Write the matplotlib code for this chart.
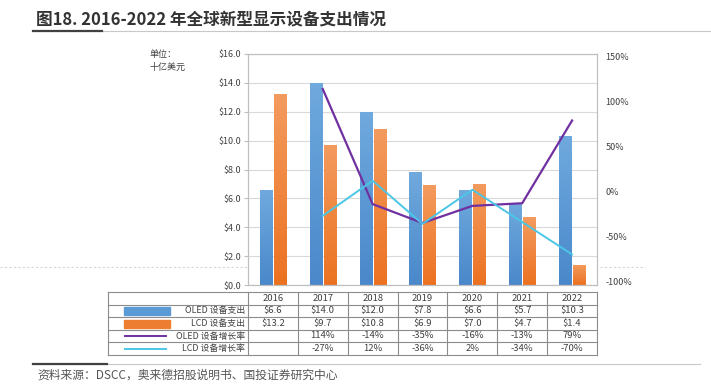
import matplotlib
matplotlib.use('Agg')
import matplotlib.pyplot as plt
from matplotlib.lines import Line2D
from matplotlib.patches import Rectangle
from matplotlib.colors import LinearSegmentedColormap
import numpy as np

plt.rcParams['font.family'] = ['Noto Sans CJK SC', 'DejaVu Sans']

years = ['2016', '2017', '2018', '2019', '2020', '2021', '2022']
oled_spend = [6.6, 14.0, 12.0, 7.8, 6.6, 5.7, 10.3]
lcd_spend = [13.2, 9.7, 10.8, 6.9, 7.0, 4.7, 1.4]
oled_growth = [None, 114, -14, -35, -16, -13, 79]
lcd_growth = [None, -27, 12, -36, 2, -34, -70]
left_ticks = [0, 2, 4, 6, 8, 10, 12, 14, 16]
right_ticks = [-100, -50, 0, 50, 100, 150]
row_names = ['OLED 设备支出', 'LCD 设备支出', 'OLED 设备增长率', 'LCD 设备增长率']

C_OLED = '#5B9BD5'
C_LCD = '#ED7D31'
C_OLED_G = '#7030A0'
C_LCD_G = '#4BC6E6'
TXT = '#404040'
cm_oled = LinearSegmentedColormap.from_list('o', ['#4A88CB', '#6FA9DD'])
cm_lcd = LinearSegmentedColormap.from_list('l', ['#EC7222', '#F39B5E'])

W, H = 711, 388
fig = plt.figure(figsize=(W / 100, H / 100), dpi=100)


def fx(px):
    return px / W


def fy(py):
    return 1 - py / H


def hline(x0, x1, y, **kw):
    fig.add_artist(Line2D([fx(x0), fx(x1)], [fy(y), fy(y)], transform=fig.transFigure, **kw))


def vline(x, y0, y1, **kw):
    fig.add_artist(Line2D([fx(x), fx(x)], [fy(y0), fy(y1)], transform=fig.transFigure, **kw))


ax_l, ax_r, ax_t, ax_b = 248, 597, 54, 285
ax = fig.add_axes([fx(ax_l), fy(ax_b), (ax_r - ax_l) / W, (ax_b - ax_t) / H])
x = np.arange(len(years))
grad = np.linspace(0, 1, 64).reshape(-1, 1)
for series, off, cmap in ((oled_spend, -0.14, cm_oled), (lcd_spend, 0.14, cm_lcd)):
    bars = ax.bar(x + off, series, 0.245, color='none', zorder=2)
    for b in bars:
        bx, bw, bh = b.get_x(), b.get_width(), b.get_height()
        im = ax.imshow(grad, cmap=cmap, origin='lower', aspect='auto',
                       extent=[bx, bx + bw, 0, bh], zorder=2)
        im.set_clip_path(b)
ax.set_xlim(-0.5, len(years) - 0.5)
ax.set_ylim(0, 16)
ax.set_yticks(left_ticks)
ax.set_yticklabels(['$%.1f' % v for v in left_ticks])
ax.grid(axis='y', color='#D9D9D9', lw=0.8)
ax.set_axisbelow(True)
ax.set_xticks([])
ax.tick_params(axis='y', labelsize=6.5, labelcolor=TXT, color='#BFBFBF', length=3, width=0.8, pad=2)
for s in ax.spines.values():
    s.set_color('#BFBFBF')
    s.set_linewidth(0.8)

ax2 = ax.twinx()
ax2.set_ylim(-104, 153)
ax2.set_yticks(right_ticks)
ax2.set_yticklabels(['%d%%' % v for v in right_ticks])
ax2.tick_params(axis='y', labelsize=6.5, labelcolor=TXT, length=0, pad=6)
for s in ax2.spines.values():
    s.set_color('#BFBFBF')
    s.set_linewidth(0.8)
og = [(i, v) for i, v in enumerate(oled_growth) if v is not None]
lg = [(i, v) for i, v in enumerate(lcd_growth) if v is not None]
ax2.plot([p[0] for p in og], [p[1] for p in og], color=C_OLED_G, lw=1.6, zorder=3)
ax2.plot([p[0] for p in lg], [p[1] for p in lg], color=C_LCD_G, lw=1.4, zorder=3)

# page artefact dashed line
fig.add_artist(Line2D([0, fx(645)], [fy(267), fy(267)], transform=fig.transFigure,
                      color='#D5D5D5', lw=0.8, ls=(0, (2, 2)), zorder=-1))

# unit label
fig.text(fx(150), fy(55), '单位：', fontsize=6.5, color=TXT, va='center')
fig.text(fx(150), fy(67), '十亿美元', fontsize=6.5, color=TXT, va='center')

# title
fig.text(fx(36), fy(19), '图18. 2016-2022 年全球新型显示设备支出情况', fontsize=12,
         fontweight='bold', color='#333333', va='center')
hline(33, 711, 31, color='#C8C8C8', lw=0.8)
hline(33, 102, 31, color='#404040', lw=1.6)

# table
t_left = 108
rows_y = [292, 305, 317, 330, 342, 355]
cat_w = (ax_r - ax_l) / len(years)
col_x = [t_left] + [ax_l + i * cat_w for i in range(len(years) + 1)]
lc = '#8C8C8C'
for y in rows_y:
    hline(t_left, ax_r, y, color=lc, lw=0.8)
for xx in col_x:
    vline(xx, rows_y[0], rows_y[-1], color=lc, lw=0.8)

fs = 6.8
for i, yr in enumerate(years):
    cx = ax_l + (i + 0.5) * cat_w
    fig.text(fx(cx), fy((rows_y[0] + rows_y[1]) / 2), yr, fontsize=fs, color=TXT, ha='center', va='center')
    fig.text(fx(cx), fy((rows_y[1] + rows_y[2]) / 2), '$%.1f' % oled_spend[i], fontsize=fs, color=TXT, ha='center', va='center')
    fig.text(fx(cx), fy((rows_y[2] + rows_y[3]) / 2), '$%.1f' % lcd_spend[i], fontsize=fs, color=TXT, ha='center', va='center')
    if oled_growth[i] is not None:
        fig.text(fx(cx), fy((rows_y[3] + rows_y[4]) / 2), '%d%%' % oled_growth[i], fontsize=fs, color=TXT, ha='center', va='center')
    if lcd_growth[i] is not None:
        fig.text(fx(cx), fy((rows_y[4] + rows_y[5]) / 2), '%d%%' % lcd_growth[i], fontsize=fs, color=TXT, ha='center', va='center')

for r, name in enumerate(row_names):
    yc = (rows_y[r + 1] + rows_y[r + 2]) / 2
    fig.text(fx(245), fy(yc), name, fontsize=6.4, color=TXT, ha='right', va='center')
    if r < 2:
        col = C_OLED if r == 0 else C_LCD
        fig.add_artist(Rectangle((fx(124), fy(yc + 4)), fx(170) - fx(124), fy(yc - 4) - fy(yc + 4),
                                 transform=fig.transFigure, color=col))
    else:
        col = C_OLED_G if r == 2 else C_LCD_G
        hline(125, 166, yc, color=col, lw=1.4)

# footer
hline(33, 700, 364, color='#C8C8C8', lw=0.8)
hline(33, 107, 364, color='#404040', lw=1.6)
fig.text(fx(37), fy(375), '资料来源：DSCC，奥来德招股说明书、国投证券研究中心', fontsize=8.5,
         color='#555555', va='center', style='italic')

fig.savefig('out.png', dpi=100)
